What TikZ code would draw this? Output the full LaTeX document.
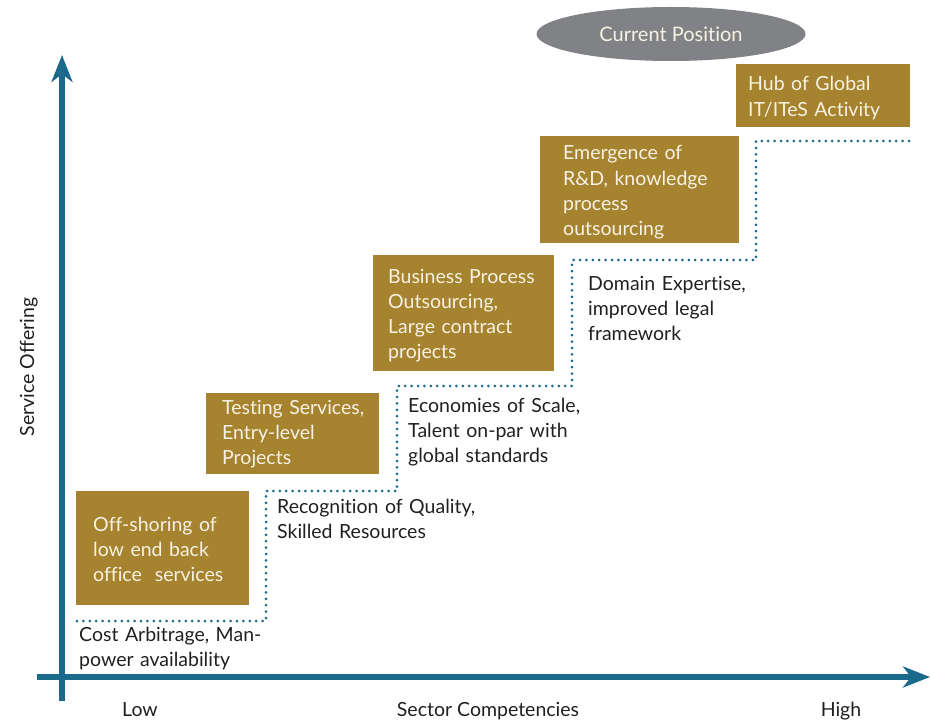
\documentclass[tikz,border=0pt]{standalone}
\usepackage{fontspec}
\setmainfont{Lato}[Ligatures=NoCommon]
\usetikzlibrary{arrows.meta,shapes.geometric}
\definecolor{axisblue}{HTML}{1B6A8C}
\definecolor{gold}{HTML}{A6832F}
\definecolor{ink}{HTML}{231F20}
\definecolor{pill}{HTML}{808285}
\definecolor{cream}{HTML}{F8F2E4}
\tikzset{
  txt/.style={font=\fontsize{19.5bp}{25.3bp}\selectfont, inner sep=0pt, text width=220bp, align=left, anchor=base west},
  label/.style={txt, text=ink},
  boxtext/.style={txt, text=cream},
  stagebox/.style={fill=gold, draw=none, inner sep=0pt, anchor=north west},
  axis/.style={draw=axisblue, line width=5.5bp, -{Stealth[length=27bp, width=21bp, inset=8bp]}},
  stair/.style={draw=axisblue, line width=3bp, line cap=round, dash pattern=on 0pt off 6.4bp},
  axlabel/.style={font=\fontsize{19.5bp}{23bp}\selectfont, text=ink, inner sep=0pt, anchor=base}
}
\begin{document}
\begin{tikzpicture}[x=1bp, y=-1bp]
\useasboundingbox (0,0) rectangle (930,723);

% axes
\coordinate (yfoot) at (62,701);
\coordinate (ytip) at (62,55);
\coordinate (xfoot) at (37,677);
\coordinate (xtip) at (930,677);
\draw[axis] (yfoot) -- (ytip);
\draw[axis] (xfoot) -- (xtip);

% dotted staircase of competencies
\draw[stair] (77,621) -| (266,491) -| (397,386) -| (572,260) -| (756,141) -- (915,141);

% stage boxes
\node[stagebox, minimum width=173bp, minimum height=114bp] (s1) at (76,491) {};
\node[stagebox, minimum width=173bp, minimum height=81bp] (s2) at (206,393) {};
\node[stagebox, minimum width=181bp, minimum height=116bp] (s3) at (373,255) {};
\node[stagebox, minimum width=199bp, minimum height=107bp] (s4) at (540,136) {};
\node[stagebox, minimum width=174bp, minimum height=63bp] (s5) at (736,64) {};

\node[boxtext] (t1) at (93,531) {Off-shoring of\\low end back\\office~ services};
\node[boxtext] (t2) at (222,414) {Testing Services,\\Entry-level\\Projects};
\node[boxtext] (t3) at (388,283) {Business Process\\Outsourcing,\\Large contract\\projects};
\node[boxtext] (t4) at (563,160) {Emergence of\\R\&D, knowledge\\process\\outsourcing};
\node[boxtext] (t5) at (748,91) {Hub of Global\\IT/ITeS Activity};

% enablers under each step
\node[label] (e1) at (79,641) {Cost Arbitrage, Man-\\power availability};
\node[label] (e2) at (277,513) {Recognition of Quality,\\Skilled Resources};
\node[label] (e3) at (408,412) {Economies of Scale,\\Talent on-par with\\global standards};
\node[label] (e4) at (588,290) {Domain Expertise,\\improved legal\\framework};

% current position marker
\node[ellipse, fill=pill, minimum width=269bp, minimum height=54bp, inner sep=0pt] (cur) at (671,34) {};
\node[axlabel, text=cream, font=\fontsize{20bp}{23bp}\selectfont] (curtext) at (671,42) {Current Position};

% axis labels
\node[axlabel] (low) at (140,716) {Low};
\node[axlabel] (sector) at (488,716) {Sector Competencies};
\node[axlabel] (high) at (841,716) {High};
\node[axlabel, rotate=90] (service) at (34,367) {Service Offering};
\end{tikzpicture}
\end{document}
